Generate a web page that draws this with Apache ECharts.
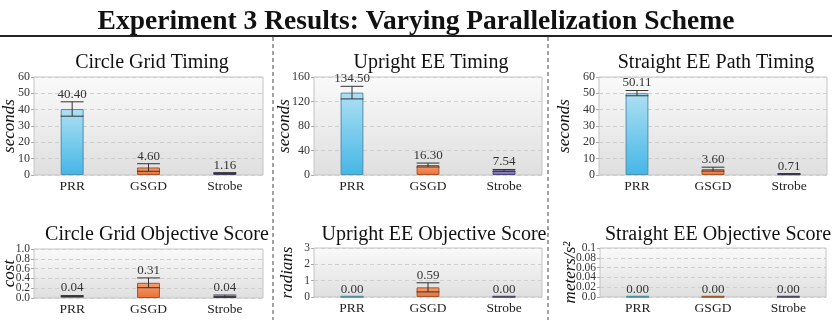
<!DOCTYPE html>
<html><head><meta charset="utf-8">
<script src="https://cdn.jsdelivr.net/npm/echarts@6/dist/echarts.min.js"></script>
<style>html,body{margin:0;padding:0;background:#fff}#c{width:832px;height:320px}</style>
</head><body><div id="c"></div>
<script>
const categories = ['PRR', 'GSGD', 'Strobe'];
const circleTimeMean = [40.40, 4.60, 1.16];
const circleTimeErr = [4.4, 2.3, 0.3];
const uprightTimeMean = [134.50, 16.30, 7.54];
const uprightTimeErr = [10.3, 3.2, 1.5];
const straightTimeMean = [50.11, 3.60, 0.71];
const straightTimeErr = [1.6, 1.2, 0.15];
const circleScoreMean = [0.04, 0.31, 0.04];
const circleScoreErr = [0.01, 0.10, 0.02];
const uprightScoreMean = [0.00, 0.59, 0.00];
const uprightScoreErr = [0.00, 0.28, 0.00];
const straightScoreMean = [0.00, 0.00, 0.00];
const straightScoreErr = [0.00, 0.00, 0.00];

const circleTimeTicks = [0, 10, 20, 30, 40, 50, 60];
const uprightTimeTicks = [0, 40, 80, 120, 160];
const straightTimeTicks = [0, 10, 20, 30, 40, 50, 60];
const circleScoreTicks = [0, 0.2, 0.4, 0.6, 0.8, 1.0];
const uprightScoreTicks = [0, 1, 2, 3];
const straightScoreTicks = [0, 0.02, 0.04, 0.06, 0.08, 0.1];

const panelTitles = ['Circle Grid Timing', 'Upright EE Timing', 'Straight EE Path Timing',
  'Circle Grid Objective Score', 'Upright EE Objective Score', 'Straight EE Objective Score'];
const axisNames = ['seconds', 'seconds', 'seconds', 'cost', 'radians', 'meters/s²'];
const ticks = [circleTimeTicks, uprightTimeTicks, straightTimeTicks, circleScoreTicks, uprightScoreTicks, straightScoreTicks];
const means = [circleTimeMean, uprightTimeMean, straightTimeMean, circleScoreMean, uprightScoreMean, straightScoreMean];
const errs = [circleTimeErr, uprightTimeErr, straightTimeErr, circleScoreErr, uprightScoreErr, straightScoreErr];

const FONT = 'Liberation Serif';
const chart = echarts.init(document.getElementById('c'), null, {renderer: 'canvas'});
const LG = echarts.graphic.LinearGradient;

const barStyles = [
  {top: '#aee0f3', bottom: '#45b6e6', border: '#4d8fae'},
  {top: '#f6a070', bottom: '#ea6f35', border: '#a8532a'},
  {top: '#a493dc', bottom: '#7361bf', border: '#4b4670'}
];

const grids = [
  {left: 34, top: 77, width: 229, height: 98},
  {left: 314, top: 77, width: 228, height: 98},
  {left: 599, top: 77, width: 228, height: 98},
  {left: 34, top: 249, width: 229, height: 49},
  {left: 314, top: 248, width: 228, height: 49},
  {left: 600, top: 248, width: 226, height: 49}
];
const nameGaps = [16, 21, 26, 16, 18, 21];
const titleX = [147, 426, 711, 152, 429, 713];
// dense axes get their labels split over two overlaid axes so none are hidden
const splitLabels = [false, false, false, true, false, true];

function fmtVal(i, v) {
  if (i === 3) return v.toFixed(1);
  if (i === 5) return v === 0 ? '0.0' : String(+v.toFixed(2));
  return String(v);
}

function yAxisBase(i) {
  const t = ticks[i];
  return {
    type: 'value', gridIndex: i, position: 'left', offset: 0,
    min: t[0], max: t[t.length - 1], interval: t[1] - t[0],
    axisLine: {show: false}
  };
}

const yAxes = [];
const extraAxes = [];
grids.forEach((g, i) => {
  const t = ticks[i];
  const lab = splitLabels[i] ? t.filter((v, k) => k % 2 === 0) : t;
  yAxes.push(Object.assign(yAxisBase(i), {
    name: axisNames[i], nameLocation: 'middle', nameGap: nameGaps[i], nameMoveOverlap: false,
    nameTextStyle: {fontFamily: FONT, fontStyle: 'italic', fontSize: 17, color: '#111'},
    axisTick: {show: true, length: 3, lineStyle: {color: '#aaa'}, customValues: t},
    splitLine: {show: true, lineStyle: {color: '#cfcfcf', type: [4, 3]}},
    axisLabel: {margin: 4, hideOverlap: false, customValues: lab,
      formatter: v => '{s|' + fmtVal(i, v) + '}',
      rich: {s: {fontFamily: FONT, fontSize: i < 3 ? 12 : 11.5, color: '#333'}}}
  }));
  if (splitLabels[i]) {
    extraAxes.push(Object.assign(yAxisBase(i), {
      axisTick: {show: false}, splitLine: {show: false},
      axisLabel: {margin: 4, hideOverlap: false, customValues: t.filter((v, k) => k % 2 === 1),
        formatter: v => '{s|' + fmtVal(i, v) + '}',
        rich: {s: {fontFamily: FONT, fontSize: 11.5, color: '#333'}}}
    }));
  }
});

const option = {
  animation: false,
  textStyle: {fontFamily: FONT},
  title: [{
    text: 'Experiment 3 Results: Varying Parallelization Scheme',
    left: 'center', top: 3,
    textStyle: {fontFamily: FONT, fontWeight: 'bold', fontSize: 27.5, color: '#111'}
  }].concat(panelTitles.map((t, i) => ({
    text: t, left: titleX[i], top: i < 3 ? 48 : 220, textAlign: 'center',
    textStyle: {fontFamily: FONT, fontWeight: 'normal', fontSize: 20, color: '#111'}
  }))),
  graphic: [
    {type: 'line', shape: {x1: 0, y1: 36, x2: 832, y2: 36}, style: {stroke: '#222', lineWidth: 2}},
    {type: 'line', shape: {x1: 273, y1: 37, x2: 273, y2: 320}, style: {stroke: '#444', lineWidth: 1, lineDash: [4, 3]}},
    {type: 'line', shape: {x1: 548, y1: 37, x2: 548, y2: 320}, style: {stroke: '#444', lineWidth: 1, lineDash: [4, 3]}}
  ],
  grid: grids.map(g => Object.assign({
    show: true, borderColor: '#c4c4c4', borderWidth: 1,
    backgroundColor: new LG(0, 0, 0, 1, [{offset: 0, color: '#fafafa'}, {offset: 1, color: '#dfdfdf'}])
  }, g)),
  xAxis: grids.map((g, i) => ({
    type: 'category', gridIndex: i, data: categories,
    axisTick: {show: false}, axisLine: {show: false},
    axisLabel: {margin: 4, formatter: v => '{s|' + v + '}',
      rich: {s: {fontFamily: FONT, fontSize: 13.5, color: '#222'}}}
  })),
  yAxis: yAxes.concat(extraAxes),
  series: []
};

means.forEach((m, i) => {
  option.series.push({
    type: 'bar', xAxisIndex: i, yAxisIndex: i, barWidth: '30%',
    data: m.map((v, k) => ({
      value: v,
      itemStyle: {
        color: new LG(0, 0, 0, 1, [{offset: 0, color: barStyles[k].top}, {offset: 1, color: barStyles[k].bottom}]),
        borderColor: barStyles[k].border, borderWidth: 1
      }
    }))
  });
  option.series.push({
    type: 'custom', xAxisIndex: i, yAxisIndex: i, z: 5,
    data: m.map((v, k) => [k, v - errs[i][k], v + errs[i][k], v]),
    renderItem: function (params, api) {
      const x = api.value(0);
      const lo = api.coord([x, api.value(1)]);
      const hi = api.coord([x, api.value(2)]);
      const base = api.coord([x, 0]);
      const mid = api.coord([x, api.value(3)]);
      const w = api.size([1, 0])[0] * 0.3;
      const half = w / 2;
      const st = {stroke: '#333', lineWidth: 1};
      const children = [];
      if (base[1] - mid[1] < 1.5) {
        children.push({type: 'line', shape: {x1: mid[0] - half, y1: base[1] - 0.5, x2: mid[0] + half, y2: base[1] - 0.5},
          style: {stroke: barStyles[x].border, lineWidth: 1.5}});
      }
      if (api.value(2) > api.value(1)) {
        children.push({type: 'line', shape: {x1: hi[0], y1: hi[1], x2: lo[0], y2: lo[1]}, style: st});
        children.push({type: 'line', shape: {x1: hi[0] - half, y1: hi[1], x2: hi[0] + half, y2: hi[1]}, style: st});
        children.push({type: 'line', shape: {x1: lo[0] - half, y1: lo[1], x2: lo[0] + half, y2: lo[1]}, style: st});
      }
      children.push({type: 'text', style: {
        text: api.value(3).toFixed(2), x: hi[0], y: hi[1] - 1,
        align: 'center', verticalAlign: 'bottom',
        font: '13px "Liberation Serif"', fill: '#333'
      }});
      return {type: 'group', children: children};
    }
  });
});

chart.setOption(option);
</script></body></html>
